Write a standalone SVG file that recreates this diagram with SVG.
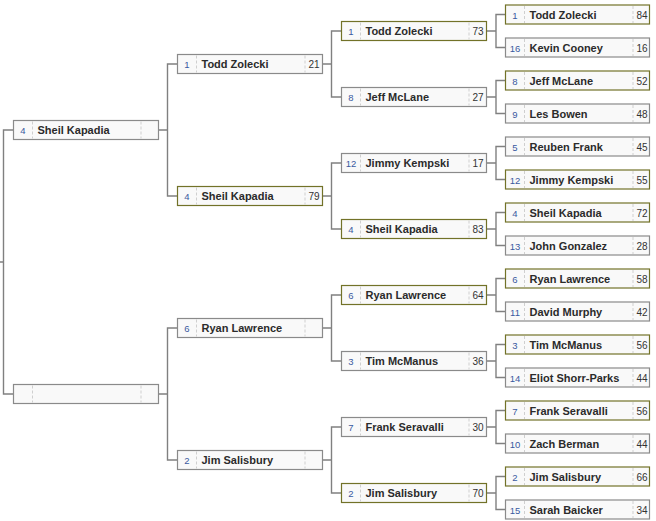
<svg xmlns="http://www.w3.org/2000/svg" width="656" height="521" viewBox="0 0 656 521">
<style>
.bg{fill:#ffffff}
.box{fill:#f9f9f9;stroke:#8a8a8a;stroke-width:1.2}
.win{stroke:#727228}
.sep{stroke:#cfcfcf;stroke-width:1;stroke-dasharray:3,2}
.seed{font-family:"Liberation Sans",Arial,sans-serif;font-size:9.5px;fill:#3a5aa0;text-anchor:middle}
.name{font-family:"Liberation Sans",Arial,sans-serif;font-size:11px;font-weight:bold;fill:#2b2b2b}
.score{font-family:"Liberation Sans",Arial,sans-serif;font-size:10px;fill:#333333;text-anchor:middle}
.conn{fill:none;stroke:#808080;stroke-width:1.4}
</style>
<defs>
<g id="shell145"><rect class="box" width="145" height="19"/><line class="sep" x1="19" y1="1" x2="19" y2="18"/><line class="sep" x1="127.5" y1="1" x2="127.5" y2="18"/></g>
<g id="shell145w"><rect class="box win" width="145" height="19"/><line class="sep" x1="19" y1="1" x2="19" y2="18"/><line class="sep" x1="127.5" y1="1" x2="127.5" y2="18"/></g>
<g id="shell144"><rect class="box" width="144" height="19"/><line class="sep" x1="19" y1="1" x2="19" y2="18"/><line class="sep" x1="127.5" y1="1" x2="127.5" y2="18"/></g>
<g id="shell144w"><rect class="box win" width="144" height="19"/><line class="sep" x1="19" y1="1" x2="19" y2="18"/><line class="sep" x1="127.5" y1="1" x2="127.5" y2="18"/></g>
</defs>
<rect class="bg" width="656" height="521"/>
<g id="connectors" class="conn">
<path d="M13.5,130H3.5V394H13.5M3.5,262H0"/>
<path d="M158.5,130H167.5M177.5,64H167.5V196H177.5"/>
<path d="M158.5,394H167.5M177.5,328H167.5V460H177.5"/>
<path d="M322.5,64H331.5M341.5,31H331.5V97H341.5"/>
<path d="M322.5,196H331.5M341.5,163H331.5V229H341.5"/>
<path d="M322.5,328H331.5M341.5,295H331.5V361H341.5"/>
<path d="M322.5,460H331.5M341.5,427H331.5V493H341.5"/>
<path d="M486.5,31H496M505.5,14.5H496V47.5H505.5"/>
<path d="M486.5,97H496M505.5,80.5H496V113.5H505.5"/>
<path d="M486.5,163H496M505.5,146.5H496V179.5H505.5"/>
<path d="M486.5,229H496M505.5,212.5H496V245.5H505.5"/>
<path d="M486.5,295H496M505.5,278.5H496V311.5H505.5"/>
<path d="M486.5,361H496M505.5,344.5H496V377.5H505.5"/>
<path d="M486.5,427H496M505.5,410.5H496V443.5H505.5"/>
<path d="M486.5,493H496M505.5,476.5H496V509.5H505.5"/>
</g>
<!-- Round 1 -->
<g id="r1-0" transform="translate(13.5,120.5)"><use href="#shell145"/><text class="seed" x="9.5" y="13.5">4</text><text class="name" x="24" y="13.8">Sheil Kapadia</text></g>
<g id="r1-1" transform="translate(13.5,384.5)"><use href="#shell145"/></g>
<!-- Round 2 -->
<g id="r2-0" transform="translate(177.5,54.5)"><use href="#shell145"/><text class="seed" x="9.5" y="13.5">1</text><text class="name" x="24" y="13.8">Todd Zolecki</text><text class="score" x="136.5" y="13.5">21</text></g>
<g id="r2-1" transform="translate(177.5,186.5)"><use href="#shell145w"/><text class="seed" x="9.5" y="13.5">4</text><text class="name" x="24" y="13.8">Sheil Kapadia</text><text class="score" x="136.5" y="13.5">79</text></g>
<g id="r2-2" transform="translate(177.5,318.5)"><use href="#shell145"/><text class="seed" x="9.5" y="13.5">6</text><text class="name" x="24" y="13.8">Ryan Lawrence</text></g>
<g id="r2-3" transform="translate(177.5,450.5)"><use href="#shell145"/><text class="seed" x="9.5" y="13.5">2</text><text class="name" x="24" y="13.8">Jim Salisbury</text></g>
<!-- Round 3 -->
<g id="r3-0" transform="translate(341.5,21.5)"><use href="#shell145w"/><text class="seed" x="9.5" y="13.5">1</text><text class="name" x="24" y="13.8">Todd Zolecki</text><text class="score" x="136.5" y="13.5">73</text></g>
<g id="r3-1" transform="translate(341.5,87.5)"><use href="#shell145"/><text class="seed" x="9.5" y="13.5">8</text><text class="name" x="24" y="13.8">Jeff McLane</text><text class="score" x="136.5" y="13.5">27</text></g>
<g id="r3-2" transform="translate(341.5,153.5)"><use href="#shell145"/><text class="seed" x="9.5" y="13.5">12</text><text class="name" x="24" y="13.8">Jimmy Kempski</text><text class="score" x="136.5" y="13.5">17</text></g>
<g id="r3-3" transform="translate(341.5,219.5)"><use href="#shell145w"/><text class="seed" x="9.5" y="13.5">4</text><text class="name" x="24" y="13.8">Sheil Kapadia</text><text class="score" x="136.5" y="13.5">83</text></g>
<g id="r3-4" transform="translate(341.5,285.5)"><use href="#shell145w"/><text class="seed" x="9.5" y="13.5">6</text><text class="name" x="24" y="13.8">Ryan Lawrence</text><text class="score" x="136.5" y="13.5">64</text></g>
<g id="r3-5" transform="translate(341.5,351.5)"><use href="#shell145"/><text class="seed" x="9.5" y="13.5">3</text><text class="name" x="24" y="13.8">Tim McManus</text><text class="score" x="136.5" y="13.5">36</text></g>
<g id="r3-6" transform="translate(341.5,417.5)"><use href="#shell145"/><text class="seed" x="9.5" y="13.5">7</text><text class="name" x="24" y="13.8">Frank Seravalli</text><text class="score" x="136.5" y="13.5">30</text></g>
<g id="r3-7" transform="translate(341.5,483.5)"><use href="#shell145w"/><text class="seed" x="9.5" y="13.5">2</text><text class="name" x="24" y="13.8">Jim Salisbury</text><text class="score" x="136.5" y="13.5">70</text></g>
<!-- Round 4 -->
<g id="r4-0" transform="translate(505.5,5)"><use href="#shell144w"/><text class="seed" x="9.5" y="13.5">1</text><text class="name" x="24" y="13.8">Todd Zolecki</text><text class="score" x="136.5" y="13.5">84</text></g>
<g id="r4-1" transform="translate(505.5,38)"><use href="#shell144"/><text class="seed" x="9.5" y="13.5">16</text><text class="name" x="24" y="13.8">Kevin Cooney</text><text class="score" x="136.5" y="13.5">16</text></g>
<g id="r4-2" transform="translate(505.5,71)"><use href="#shell144w"/><text class="seed" x="9.5" y="13.5">8</text><text class="name" x="24" y="13.8">Jeff McLane</text><text class="score" x="136.5" y="13.5">52</text></g>
<g id="r4-3" transform="translate(505.5,104)"><use href="#shell144"/><text class="seed" x="9.5" y="13.5">9</text><text class="name" x="24" y="13.8">Les Bowen</text><text class="score" x="136.5" y="13.5">48</text></g>
<g id="r4-4" transform="translate(505.5,137)"><use href="#shell144"/><text class="seed" x="9.5" y="13.5">5</text><text class="name" x="24" y="13.8">Reuben Frank</text><text class="score" x="136.5" y="13.5">45</text></g>
<g id="r4-5" transform="translate(505.5,170)"><use href="#shell144w"/><text class="seed" x="9.5" y="13.5">12</text><text class="name" x="24" y="13.8">Jimmy Kempski</text><text class="score" x="136.5" y="13.5">55</text></g>
<g id="r4-6" transform="translate(505.5,203)"><use href="#shell144w"/><text class="seed" x="9.5" y="13.5">4</text><text class="name" x="24" y="13.8">Sheil Kapadia</text><text class="score" x="136.5" y="13.5">72</text></g>
<g id="r4-7" transform="translate(505.5,236)"><use href="#shell144"/><text class="seed" x="9.5" y="13.5">13</text><text class="name" x="24" y="13.8">John Gonzalez</text><text class="score" x="136.5" y="13.5">28</text></g>
<g id="r4-8" transform="translate(505.5,269)"><use href="#shell144w"/><text class="seed" x="9.5" y="13.5">6</text><text class="name" x="24" y="13.8">Ryan Lawrence</text><text class="score" x="136.5" y="13.5">58</text></g>
<g id="r4-9" transform="translate(505.5,302)"><use href="#shell144"/><text class="seed" x="9.5" y="13.5">11</text><text class="name" x="24" y="13.8">David Murphy</text><text class="score" x="136.5" y="13.5">42</text></g>
<g id="r4-10" transform="translate(505.5,335)"><use href="#shell144w"/><text class="seed" x="9.5" y="13.5">3</text><text class="name" x="24" y="13.8">Tim McManus</text><text class="score" x="136.5" y="13.5">56</text></g>
<g id="r4-11" transform="translate(505.5,368)"><use href="#shell144"/><text class="seed" x="9.5" y="13.5">14</text><text class="name" x="24" y="13.8">Eliot Shorr-Parks</text><text class="score" x="136.5" y="13.5">44</text></g>
<g id="r4-12" transform="translate(505.5,401)"><use href="#shell144w"/><text class="seed" x="9.5" y="13.5">7</text><text class="name" x="24" y="13.8">Frank Seravalli</text><text class="score" x="136.5" y="13.5">56</text></g>
<g id="r4-13" transform="translate(505.5,434)"><use href="#shell144"/><text class="seed" x="9.5" y="13.5">10</text><text class="name" x="24" y="13.8">Zach Berman</text><text class="score" x="136.5" y="13.5">44</text></g>
<g id="r4-14" transform="translate(505.5,467)"><use href="#shell144w"/><text class="seed" x="9.5" y="13.5">2</text><text class="name" x="24" y="13.8">Jim Salisbury</text><text class="score" x="136.5" y="13.5">66</text></g>
<g id="r4-15" transform="translate(505.5,500)"><use href="#shell144"/><text class="seed" x="9.5" y="13.5">15</text><text class="name" x="24" y="13.8">Sarah Baicker</text><text class="score" x="136.5" y="13.5">34</text></g>
</svg>
